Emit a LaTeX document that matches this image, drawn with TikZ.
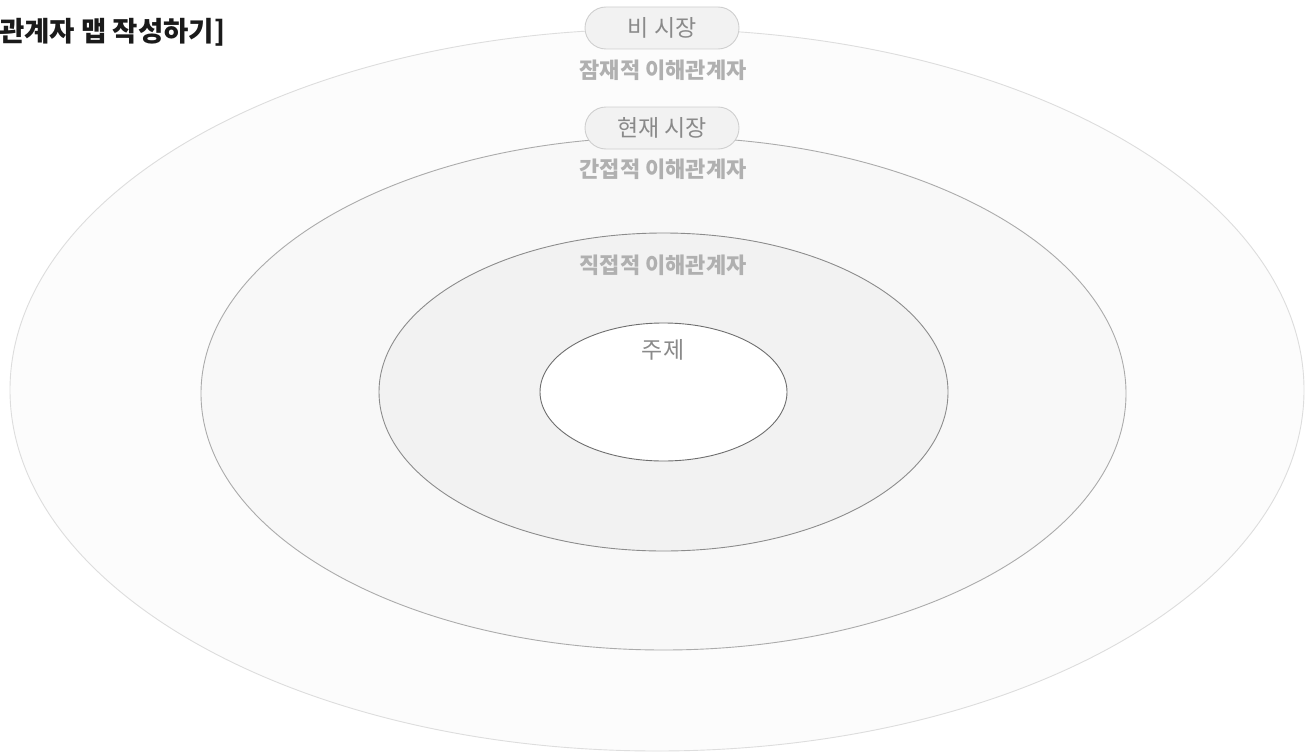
\documentclass[tikz,border=0pt]{standalone}
\usepackage{fontspec}
\setmainfont{Noto Sans CJK KR}
\usetikzlibrary{shapes.geometric,shapes.misc}
\definecolor{ringA}{HTML}{FCFCFC}
\definecolor{ringAline}{HTML}{DDDDDD}
\definecolor{ringB}{HTML}{F8F8F8}
\definecolor{ringBline}{HTML}{ABABAB}
\definecolor{ringC}{HTML}{F2F2F2}
\definecolor{ringCline}{HTML}{8C8C8C}
\definecolor{coreline}{HTML}{6E6E6E}
\definecolor{labelgray}{HTML}{B0B0B0}
\definecolor{pilltext}{HTML}{8A8A8A}
\definecolor{pillfill}{HTML}{F2F2F2}
\definecolor{pillline}{HTML}{CFCFCF}
\definecolor{titleink}{HTML}{1A1A1A}
\tikzset{
  ring/.style={ellipse, inner sep=0pt, line width=0.9pt},
  ringlabel/.style={text=labelgray, font=\fontsize{22}{26}\selectfont\bfseries},
  pill/.style={rounded rectangle, draw=pillline, fill=pillfill, line width=0.9pt,
    minimum width=154pt, minimum height=42pt, inner sep=0pt, text=pilltext,
    font=\fontsize{23}{27}\selectfont},
}
\begin{document}
\begin{tikzpicture}[x=1pt,y=-1pt]
\useasboundingbox (0,0) rectangle (1305,752);
\fill[white] (0,0) rectangle (1305,752);
\node[ring, draw=ringAline, fill=ringA, minimum width=1294pt, minimum height=722pt] (outer) at (657,390) {};
\node[ring, draw=ringBline, fill=ringB, minimum width=925pt, minimum height=513pt] (middle) at (663.5,393.5) {};
\node[ring, draw=ringCline, fill=ringC, minimum width=569pt, minimum height=318pt] (inner) at (663.5,392) {};
\node[ring, draw=coreline, fill=white, minimum width=247pt, minimum height=138pt] (core) at (663.5,392) {};
\node[pill] (nonmarket) at (662,28) {비 시장};
\node[ringlabel] (potential) at (663,70) {잠재적 이해관계자};
\node[pill] (market) at (662,128) {현재 시장};
\node[ringlabel] (indirect) at (663,169) {간접적 이해관계자};
\node[ringlabel] (direct) at (663,265) {직접적 이해관계자};
\node[text=pilltext, font=\fontsize{23}{27}\selectfont] (topic) at (663,350) {주제};
\node[anchor=west, inner sep=0pt, text=titleink, font=\fontsize{27.5}{31}\selectfont\bfseries] (title) at (-1,32) {관계자 맵 작성하기]};
\end{tikzpicture}
\end{document}
